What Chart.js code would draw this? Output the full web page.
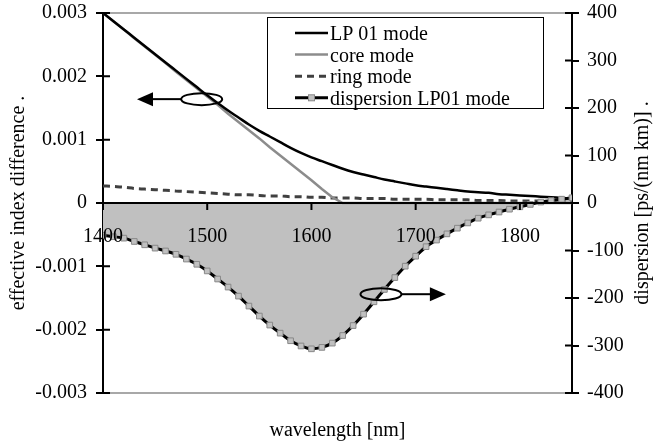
<!DOCTYPE html>
<html>
<head>
<meta charset="utf-8">
<script src="https://cdn.jsdelivr.net/npm/chart.js@4.4.0/dist/chart.umd.min.js"></script>
<style>
  html, body { margin: 0; padding: 0; background: #fff; }
  #wrap { width: 655px; height: 445px; }
</style>
</head>
<body>
<div id="wrap"><canvas id="modeChart" width="655" height="445"></canvas></div>
<script>
// wavelength grid [nm]
var wavelength = [1400, 1410, 1420, 1430, 1440, 1450, 1460, 1470, 1480, 1490,
                  1500, 1510, 1520, 1530, 1540, 1550, 1560, 1570, 1580, 1590,
                  1600, 1610, 1620, 1630, 1640, 1650, 1660, 1670, 1680, 1690,
                  1700, 1710, 1720, 1730, 1740, 1750, 1760, 1770, 1780, 1790,
                  1800, 1810, 1820, 1830, 1840, 1850];

// effective index difference (left axis)
var lp01Mode = [0.00300, 0.00287, 0.00274, 0.00261, 0.00248, 0.00235, 0.00222, 0.00209, 0.00196, 0.00183,
                0.00170, 0.00158, 0.00146, 0.00135, 0.00124, 0.00114, 0.00105, 0.00096, 0.00087, 0.00079,
                0.00072, 0.00066, 0.00060, 0.00054, 0.00049, 0.00045, 0.00041, 0.00037, 0.00034, 0.00031,
                0.00028, 0.00026, 0.00024, 0.00022, 0.00020, 0.00018, 0.00017, 0.00016, 0.00014, 0.00013,
                0.00012, 0.00011, 0.00010, 0.00009, 0.00008, 0.00007];

var coreMode = [0.00300, 0.00287, 0.00274, 0.00260, 0.00247, 0.00234, 0.00221, 0.00207, 0.00194, 0.00181,
                0.00168, 0.00155, 0.00141, 0.00128, 0.00115, 0.00102, 0.00088, 0.00075, 0.00062, 0.00049,
                0.00036, 0.00022, 0.00009, 0, 0, 0, 0, 0, 0, 0,
                0, 0, 0, 0, 0, 0, 0, 0, 0, 0,
                0, 0, 0, 0, 0, 0];

var ringMode = [0.00027, 0.00026, 0.00025, 0.00023, 0.00022, 0.00021, 0.00020, 0.00019, 0.00018, 0.00017,
                0.00016, 0.00015, 0.00014, 0.00013, 0.00013, 0.00012, 0.00011, 0.00011, 0.00010, 0.00010,
                0.00009, 0.00009, 0.00008, 0.00008, 0.00008, 0.00007, 0.00007, 0.00007, 0.00006, 0.00006,
                0.00006, 0.00006, 0.00005, 0.00005, 0.00005, 0.00005, 0.00004, 0.00004, 0.00004, 0.00003,
                0.00003, 0.00003, 0.00003, 0.00002, 0.00002, 0.00002];

// dispersion of the LP01 mode, ps/(nm km) (right axis)
var dispersionLP01 = [-68, -71, -74, -81, -88, -95, -101, -108, -118, -129,
                      -143, -160, -177, -196, -217, -238, -257, -274, -290, -301,
                      -307, -304, -295, -279, -258, -234, -208, -182, -157, -133,
                      -112, -92, -78, -65, -53, -42, -32, -25, -19, -13,
                      -8, -3, 2, 5, 8, 11];

var xTickValues = [1400, 1500, 1600, 1700, 1800];
var xTickLabels = ['1400', '1500', '1600', '1700', '1800'];
var leftTickLabels = ['-0.003', '-0.002', '-0.001', '0', '0.001', '0.002', '0.003'];
var rightTickLabels = ['-400', '-300', '-200', '-100', '0', '100', '200', '300', '400'];

var xTitle = 'wavelength [nm]';
var leftTitle = 'effective index difference .';
var rightTitle = 'dispersion [ps/(nm km)] .';

var serif = "'Liberation Serif', 'Times New Roman', serif";
Chart.defaults.font.family = serif;
Chart.defaults.font.size = 20;
Chart.defaults.color = '#000';

function pairs(values) {
    return wavelength.map(function (w, i) { return { x: w, y: values[i] }; });
}

// fixed axis widths, no extra room for overhanging tick labels
function fixWidth(w) {
    return function (s) {
        s.width = w;
        s.paddingTop = 0;
        s.paddingBottom = 0;
    };
}

// extra drawing: frame, zero axis, legend box, ellipse markers with arrows
var chartDecor = {
    id: 'chartDecor',
    beforeDatasetsDraw: function (chart) {
        var a = chart.chartArea, ctx = chart.ctx;
        ctx.save();
        ctx.strokeStyle = '#8c8c8c';
        ctx.lineWidth = 1.5;
        ctx.beginPath();
        ctx.moveTo(a.left, a.top); ctx.lineTo(a.right, a.top);
        ctx.moveTo(a.left, a.bottom); ctx.lineTo(a.right, a.bottom);
        ctx.stroke();
        ctx.restore();
    },
    afterDatasetsDraw: function (chart) {
        var a = chart.chartArea, ctx = chart.ctx;
        var xs = chart.scales.x, ys = chart.scales.y, y2 = chart.scales.y2;
        var y0 = ys.getPixelForValue(0);
        ctx.save();
        ctx.strokeStyle = '#000';
        ctx.fillStyle = '#000';
        ctx.lineWidth = 2;

        // inner half of the y tick marks
        ctx.beginPath();
        ys.ticks.forEach(function (t) {
            var py = ys.getPixelForValue(t.value);
            ctx.moveTo(a.left, py); ctx.lineTo(a.left + 7, py);
        });
        y2.ticks.forEach(function (t) {
            var py = y2.getPixelForValue(t.value);
            ctx.moveTo(a.right - 7, py); ctx.lineTo(a.right, py);
        });
        ctx.stroke();

        // wavelength axis along zero
        ctx.beginPath();
        ctx.moveTo(a.left, y0); ctx.lineTo(a.right, y0);
        ctx.stroke();
        ctx.font = '20px ' + serif;
        ctx.textAlign = 'center';
        ctx.textBaseline = 'alphabetic';
        xTickValues.forEach(function (v, i) {
            var px = xs.getPixelForValue(v);
            ctx.beginPath();
            ctx.moveTo(px, y0); ctx.lineTo(px, y0 + 7);
            ctx.stroke();
            ctx.fillText(xTickLabels[i], px, y0 + 39);
        });

        // axis titles
        ctx.fillText(xTitle, (a.left + a.right) / 2, 436);
        ctx.save();
        ctx.translate(643, (a.top + a.bottom) / 2);
        ctx.rotate(-Math.PI / 2);
        ctx.textBaseline = 'middle';
        ctx.fillText(rightTitle, 0, 0);
        ctx.restore();

        // ellipses pointing at their axes
        function ringArrow(cx, cy, tipX) {
            var rx = 20.5, ry = 6;
            var dir = tipX < cx ? -1 : 1;
            var startX = cx + dir * rx;
            ctx.lineWidth = 2;
            ctx.beginPath();
            ctx.ellipse(cx, cy, rx, ry, 0, 0, Math.PI * 2);
            ctx.stroke();
            ctx.beginPath();
            ctx.moveTo(startX, cy); ctx.lineTo(tipX - dir * 14, cy);
            ctx.stroke();
            ctx.beginPath();
            ctx.moveTo(tipX, cy);
            ctx.lineTo(tipX - dir * 16, cy - 7);
            ctx.lineTo(tipX - dir * 16, cy + 7);
            ctx.closePath();
            ctx.fill();
        }
        ringArrow(xs.getPixelForValue(1494.7), ys.getPixelForValue(0.00164), xs.getPixelForValue(1432.6));
        ringArrow(xs.getPixelForValue(1666.7), y2.getPixelForValue(-192), xs.getPixelForValue(1729));

        // legend
        var box = { left: 267.5, top: 17.5, right: 543.5, bottom: 108.5 };
        ctx.fillStyle = '#fff';
        ctx.fillRect(box.left, box.top, box.right - box.left, box.bottom - box.top);
        ctx.lineWidth = 1;
        ctx.strokeStyle = '#000';
        ctx.strokeRect(box.left, box.top, box.right - box.left, box.bottom - box.top);
        ctx.textAlign = 'left';
        chart.data.datasets.forEach(function (ds, i) {
            var ly = 33 + i * 21.6;
            ctx.save();
            ctx.strokeStyle = ds.borderColor;
            ctx.lineWidth = ds.borderWidth;
            ctx.setLineDash(ds.borderDash || []);
            ctx.beginPath();
            ctx.moveTo(295, ly); ctx.lineTo(328, ly);
            ctx.stroke();
            ctx.restore();
            if (ds.pointRadius > 0) {
                ctx.fillStyle = ds.pointBackgroundColor;
                ctx.fillRect(308.5, ly - 3, 6, 6);
                ctx.strokeStyle = ds.pointBorderColor;
                ctx.strokeRect(308.5, ly - 3, 6, 6);
            }
            ctx.fillStyle = '#000';
            ctx.fillText(ds.label, 330, ly + 7);
        });
        ctx.restore();
    }
};

var ctx = document.getElementById('modeChart').getContext('2d');
var modeChart = new Chart(ctx, {
    type: 'line',
    data: {
        datasets: [{
            label: 'LP 01 mode',
            data: pairs(lp01Mode),
            yAxisID: 'y',
            borderColor: '#000',
            borderWidth: 2.5,
            pointRadius: 0,
            cubicInterpolationMode: 'monotone',
            order: 1
        }, {
            label: 'core mode',
            data: pairs(coreMode),
            yAxisID: 'y',
            borderColor: '#8c8c8c',
            borderWidth: 2.5,
            pointRadius: 0,
            order: 2
        }, {
            label: 'ring mode',
            data: pairs(ringMode),
            yAxisID: 'y',
            borderColor: '#404040',
            borderWidth: 3,
            borderDash: [7, 5],
            pointRadius: 0,
            cubicInterpolationMode: 'monotone',
            order: 3
        }, {
            label: 'dispersion LP01 mode',
            data: pairs(dispersionLP01),
            yAxisID: 'y2',
            borderColor: '#000',
            borderWidth: 3,
            backgroundColor: '#c0c0c0',
            fill: 'origin',
            pointStyle: 'rect',
            pointRadius: 4,
            pointBackgroundColor: '#c0c0c0',
            pointBorderColor: '#888',
            pointBorderWidth: 1,
            cubicInterpolationMode: 'monotone',
            order: 0
        }]
    },
    options: {
        responsive: false,
        animation: false,
        devicePixelRatio: 1,
        layout: { padding: { top: 13, bottom: 52, left: 0, right: 0 } },
        plugins: {
            legend: { display: false },
            tooltip: { enabled: false },
            filler: { drawTime: 'beforeDatasetsDraw' }
        },
        scales: {
            x: {
                type: 'linear',
                min: 1400,
                max: 1850,
                display: false
            },
            y: {
                position: 'left',
                min: -0.003,
                max: 0.003,
                ticks: {
                    stepSize: 0.001,
                    padding: 9,
                    callback: function (v, i) { return leftTickLabels[i]; }
                },
                grid: { drawOnChartArea: false, tickLength: 7, color: '#000', lineWidth: 2 },
                border: { color: '#000', width: 2 },
                title: { display: true, text: leftTitle, padding: { top: 7, bottom: 0 } },
                afterFit: fixWidth(103)
            },
            y2: {
                position: 'right',
                min: -400,
                max: 400,
                ticks: {
                    stepSize: 100,
                    padding: 8,
                    callback: function (v, i) { return rightTickLabels[i]; }
                },
                grid: { drawOnChartArea: false, tickLength: 7, color: '#000', lineWidth: 2 },
                border: { color: '#000', width: 2 },
                afterFit: fixWidth(83)
            }
        }
    },
    plugins: [chartDecor]
});
</script>
</body>
</html>
